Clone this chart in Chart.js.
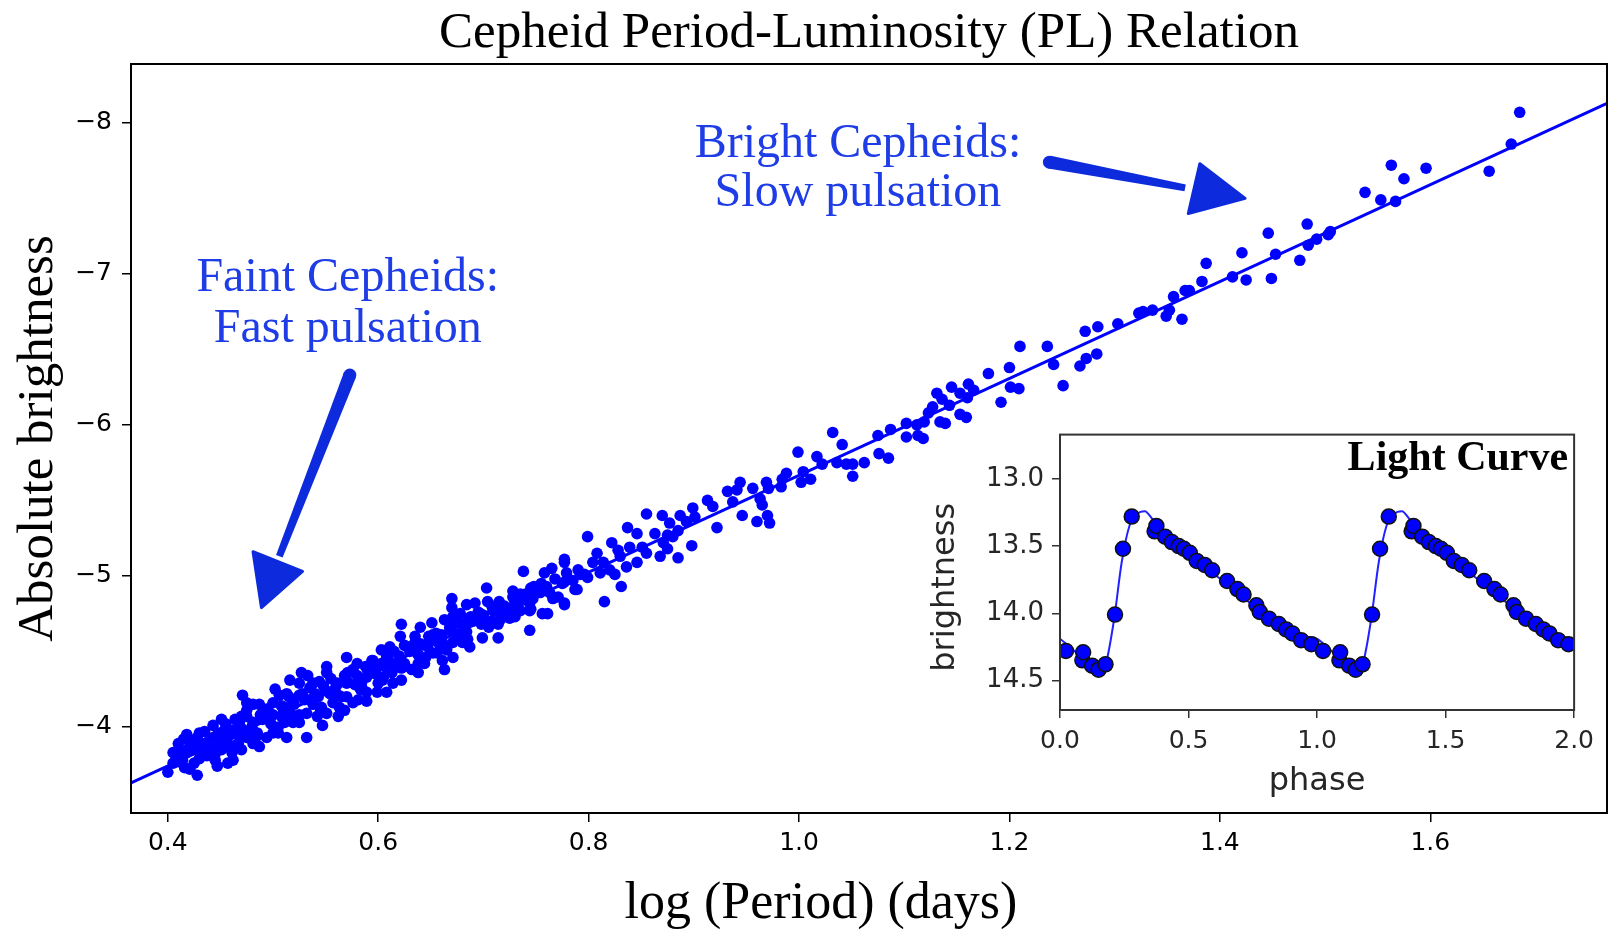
<!DOCTYPE html>
<html>
<head>
<meta charset="utf-8">
<script src="https://cdn.jsdelivr.net/npm/chart.js@4.4.1/dist/chart.umd.min.js"></script>
<style>
  body { margin: 0; background: #fff; }
  #wrap { position: relative; width: 1613px; height: 931px; }
  #mainChart { position: absolute; left: 0; top: 0; }
  #insetChart { position: absolute; left: 895px; top: 411px; }
</style>
</head>
<body>
<div id="wrap">
  <canvas id="mainChart" width="1613" height="931"></canvas>
  <canvas id="insetChart" width="707" height="395"></canvas>
</div>
<script>
// Cepheids: [log P (days), absolute magnitude]
const cepheids = [
  [1.685,-8.07],[1.677,-7.86],[1.656,-7.68],[1.596,-7.70],[1.563,-7.72],[1.575,-7.63],[1.567,-7.48],[1.553,-7.49],
  [1.538,-7.54],[1.505,-7.28],[1.503,-7.26],[1.492,-7.23],[1.483,-7.33],[1.484,-7.19],[1.476,-7.09],[1.453,-7.13],
  [1.446,-7.27],[1.449,-6.97],[1.421,-7.14],[1.425,-6.96],[1.412,-6.98],[1.387,-7.07],[1.383,-6.95],[1.371,-6.89],
  [1.367,-6.89],[1.356,-6.85],[1.352,-6.76],[1.349,-6.72],[1.364,-6.70],[1.336,-6.76],
  [1.327,-6.75],[1.323,-6.74],[1.303,-6.67],[1.284,-6.65],[1.272,-6.62],[1.283,-6.47],[1.273,-6.44],[1.267,-6.39],
  [1.236,-6.52],[1.242,-6.40],[1.251,-6.26],[1.210,-6.52],[1.200,-6.38],[1.180,-6.34],[1.209,-6.24],[1.201,-6.25],
  [1.192,-6.15],[1.161,-6.27],[1.166,-6.23],[1.160,-6.18],[1.145,-6.25],[1.153,-6.21],[1.131,-6.21],[1.136,-6.17],
  [1.143,-6.13],[1.127,-6.12],[1.123,-6.08],[1.153,-6.07],[1.159,-6.05],[1.134,-6.02],[1.139,-6.01],[1.119,-6.02],
  [1.112,-6.00],[1.102,-6.01],[1.087,-5.97],[1.075,-5.93],[1.102,-5.92],[1.118,-5.91],[1.113,-5.93],[1.076,-5.81],
  [1.085,-5.78],[1.062,-5.75],[1.051,-5.74],[1.051,-5.66],
  [1.032,-5.95],[1.041,-5.87],[1.036,-5.75],[1.045,-5.74],[1.017,-5.79],[1.022,-5.74],[0.999,-5.82],[1.004,-5.69],
  [1.002,-5.62],[1.011,-5.64],[0.988,-5.68],[0.984,-5.64],[0.983,-5.59],[0.969,-5.62],[0.971,-5.58],[0.956,-5.58],
  [0.963,-5.51],[0.965,-5.47],[0.970,-5.40],[0.972,-5.35],[0.960,-5.36],[0.944,-5.62],[0.941,-5.57],[0.932,-5.56],
  [0.937,-5.49],[0.946,-5.40],[0.922,-5.32],[0.913,-5.50],[0.918,-5.46],[0.899,-5.45],[0.901,-5.39],[0.898,-5.20],
  [0.893,-5.36],[0.887,-5.40],[0.877,-5.35],[0.885,-5.30],[0.880,-5.26],[0.875,-5.27],[0.885,-5.12],[0.870,-5.40],
  [0.855,-5.41],[0.863,-5.28],[0.871,-5.22],[0.868,-5.13],[0.875,-5.18],[0.855,-5.15],[0.851,-5.19],[0.837,-5.32],
  [0.846,-5.28],[0.839,-5.19],[0.846,-5.09],[0.836,-5.06],[0.830,-5.13],[0.822,-5.22],[0.828,-5.17],[0.820,-5.04],
  [0.825,-5.01],[0.814,-5.09],[0.808,-5.15],[0.804,-5.09],[0.811,-5.02],[0.799,-5.26],[0.799,-4.99],[0.792,-5.01],
  [0.787,-4.91],[0.777,-5.11],[0.779,-5.02],[0.775,-4.95],[0.777,-4.82],[0.815,-4.83],[0.831,-4.93],
  [0.777,-5.09],[0.765,-5.05],[0.758,-5.02],[0.738,-5.03],[0.777,-4.96],[0.789,-4.91],[0.796,-5.01],[0.777,-4.81],
  [0.766,-4.85],[0.761,-4.75],[0.745,-4.92],[0.732,-4.87],[0.747,-4.85],[0.744,-4.77],[0.727,-4.79],[0.730,-4.73],
  [0.744,-4.64],[0.716,-4.71],[0.703,-4.92],[0.704,-4.83],[0.692,-4.82],[0.684,-4.81],[0.670,-4.85],[0.697,-4.75],
  [0.708,-4.70],[0.714,-4.59],[0.699,-4.59],[0.684,-4.69],[0.678,-4.75],[0.671,-4.73],[0.663,-4.71],[0.668,-4.64],
  [0.675,-4.60],[0.680,-4.56],[0.661,-4.56],[0.651,-4.69],[0.640,-4.66],[0.622,-4.68],[0.621,-4.60],[0.635,-4.60],
  [0.649,-4.58],[0.656,-4.49],[0.661,-4.44],[0.663,-4.38],[0.652,-4.49],[0.638,-4.42],[0.625,-4.42],[0.638,-4.48],
  [0.630,-4.51],[0.625,-4.54],[0.611,-4.53],[0.608,-4.48],[0.603,-4.42],[0.613,-4.36],[0.614,-4.29],[0.604,-4.31],
  [0.597,-4.38],[0.594,-4.44],[0.589,-4.33],[0.584,-4.29],[0.589,-4.23],[0.589,-4.17],[0.581,-4.18],[0.570,-4.46],
  [0.580,-4.42],[0.576,-4.38],[0.570,-4.29],[0.571,-4.36],[0.561,-4.29],[0.562,-4.21],[0.568,-4.11],[0.562,-4.07],
  [0.551,-4.40],[0.551,-4.36],[0.557,-4.16],[0.554,-4.22],[0.544,-4.30],[0.538,-4.29],[0.543,-4.20],[0.546,-4.13],
  [0.547,-4.01],[0.532,-3.93],[0.525,-4.03],[0.532,-4.09],[0.527,-4.36],[0.533,-4.34],[0.516,-4.31],[0.525,-4.29],
  [0.525,-4.21],[0.519,-4.16],[0.513,-4.22],[0.511,-4.13],[0.506,-4.21],[0.502,-4.25],[0.500,-4.16],[0.505,-3.96],
  [0.500,-3.96],[0.494,-4.11],[0.490,-4.07],[0.487,-4.15],[0.481,-4.15],[0.475,-4.11],[0.471,-4.21],[0.470,-4.07],
  [0.475,-4.16],[0.481,-4.03],[0.468,-4.03],[0.464,-4.05],[0.462,-3.98],[0.475,-3.93],[0.481,-3.89],[0.467,-3.89],
  [0.456,-3.91],[0.461,-3.83],[0.454,-3.98],[0.451,-4.05],[0.443,-4.01],[0.443,-3.93],[0.445,-3.78],[0.448,-3.87],
  [0.435,-3.89],[0.430,-3.96],[0.430,-3.79],[0.428,-3.93],[0.421,-3.91],[0.418,-3.83],[0.414,-3.78],[0.410,-3.89],
  [0.405,-3.83],[0.416,-3.73],[0.421,-3.72],[0.428,-3.68],[0.400,-3.70],[0.410,-3.77],[0.411,-3.85],[0.462,-3.78],
  [0.457,-3.76],[0.424,-3.85],[0.437,-3.81],[0.451,-3.85],[0.497,-4.05],[0.511,-4.03],[0.519,-4.03],[0.513,-4.09],
  [0.542,-4.07],[0.535,-4.18],[0.563,-4.13],[0.583,-4.25],[0.599,-4.23],[0.600,-4.29],[0.608,-4.23],[0.611,-4.42],
  [0.622,-4.39],[0.632,-4.38],[0.638,-4.36],[0.622,-4.31],[0.606,-4.40],[0.637,-4.53],[0.647,-4.53],[0.652,-4.61],
  [0.671,-4.56],[0.684,-4.63],[0.687,-4.72],[0.699,-4.71],[0.687,-4.53],[0.665,-4.51],[0.671,-4.46],[0.644,-4.42],
  [0.709,-4.77],[0.716,-4.79],[0.722,-4.75],[0.735,-4.77],[0.744,-4.82],[0.756,-4.75],[0.728,-4.86],[0.737,-4.84],
  [0.754,-4.89],[0.763,-4.89],[0.771,-4.86],[0.790,-5.04],[0.714,-4.68],[0.670,-4.79],[0.668,-4.69],[0.603,-4.51],
  [0.570,-4.20],[0.576,-4.16],[0.551,-4.09],[0.513,-3.93],[0.508,-4.07],[0.485,-3.96],[0.487,-3.87],[0.494,-3.93],
  [0.470,-3.85],[0.447,-3.74],[0.440,-3.85],
  [0.41,-3.80],[0.42,-3.86],[0.43,-3.84],[0.44,-3.92],[0.45,-3.93],[0.46,-3.95],[0.47,-3.99],[0.48,-4.00],
  [0.49,-4.05],[0.50,-4.08],[0.51,-4.10],[0.52,-4.15],[0.53,-4.18],[0.54,-4.22],[0.55,-4.24],[0.56,-4.27],
  [0.57,-4.31],[0.58,-4.34],[0.59,-4.37],[0.60,-4.40],[0.61,-4.44],[0.62,-4.47],[0.63,-4.50],[0.64,-4.55],
  [0.65,-4.57],[0.66,-4.61],[0.67,-4.64],[0.68,-4.68],[0.69,-4.70],[0.70,-4.74],[0.71,-4.77],[0.72,-4.80],
  [0.73,-4.83],[0.74,-4.88],[0.75,-4.90],[0.76,-4.93],
  [0.415,-3.92],[0.435,-3.97],[0.455,-4.02],[0.475,-4.07],[0.495,-4.12],[0.515,-4.20],[0.535,-4.26],[0.555,-4.32],
  [0.575,-4.37],[0.595,-4.44],[0.615,-4.50],[0.635,-4.56],[0.655,-4.62],[0.675,-4.69],[0.695,-4.76],[0.715,-4.83],
  [0.735,-4.88],[0.755,-4.95],
  [0.425,-3.76],[0.445,-3.82],[0.465,-3.88],[0.485,-3.94],[0.505,-4.00],[0.525,-4.08],[0.545,-4.12],[0.565,-4.20],
  [0.585,-4.25],[0.605,-4.33],[0.625,-4.40],[0.645,-4.46],[0.665,-4.52],[0.685,-4.58],[0.705,-4.66],[0.725,-4.72],
  [0.745,-4.78],
  [0.405,-3.76],[0.418,-3.95],[0.428,-3.88],[0.438,-3.88],[0.448,-3.96],[0.458,-3.88],[0.468,-3.94],[0.478,-3.98],
  [0.488,-4.08],[0.498,-4.02],[0.508,-4.14],[0.518,-4.08],[0.528,-4.22],[0.538,-4.15],[0.548,-4.27],[0.558,-4.24],
  [0.568,-4.34],[0.578,-4.28],[0.588,-4.40],[0.598,-4.35],[0.608,-4.46],[0.618,-4.42],[0.628,-4.53],[0.638,-4.48],
  [0.648,-4.60],[0.658,-4.55],[0.668,-4.66],[0.678,-4.62],[0.688,-4.73],[0.698,-4.68],[0.708,-4.80],[0.718,-4.76],
  [0.728,-4.90],[0.748,-4.93],[0.768,-4.98],[0.785,-4.97]
];

// fitted PL line, end points at the axis edges
const fitLogP = [0.365, 1.768];
const fitMag = [-3.63, -8.13];

const xTicks = [0.4, 0.6, 0.8, 1.0, 1.2, 1.4, 1.6];
const yTicks = [-8, -7, -6, -5, -4];

// light curve (one cycle, plotted twice)
const lcPhase = [0.023,0.087,0.090,0.125,0.150,0.177,0.214,0.245,0.279,0.368,0.375,0.409,0.435,0.462,0.482,
                 0.505,0.532,0.563,0.592,0.650,0.690,0.714,0.764,0.777,0.813,0.851,0.880,0.904,0.938,0.978];
const lcMag = [14.28,14.35,14.29,14.39,14.42,14.38,14.01,13.52,13.28,13.39,13.35,13.43,13.47,13.50,13.52,
               13.55,13.61,13.64,13.68,13.76,13.82,13.86,13.94,13.99,14.04,14.08,14.12,14.15,14.20,14.23];
const modelPhase = [0.00,0.05,0.10,0.15,0.18,0.21,0.24,0.27,0.30,0.33,0.36,0.40,0.50,0.60,0.70,0.80,0.90,0.95,1.00];
const modelMag = [14.19,14.27,14.36,14.43,14.36,14.05,13.62,13.35,13.26,13.24,13.30,13.40,13.56,13.71,13.86,14.02,14.13,14.17,14.19];
const phaseTicks = [0.0, 0.5, 1.0, 1.5, 2.0];
const brightTicks = [13.0, 13.5, 14.0, 14.5];

const chartTitle = "Cepheid Period-Luminosity (PL) Relation";
const xTitle = "log (Period) (days)";
const yTitle = "Absolute brightness";
const notes = [
  { lines: ["Faint Cepheids:", "Fast pulsation"], x: 0.571, y: [-6.97, -6.63] },
  { lines: ["Bright Cepheids:", "Slow pulsation"], x: 1.056, y: [-7.86, -7.53] }
];
const arrows = [
  { shaft: [[0.573, -6.33], [0.506, -5.13]], head: [[0.481, -5.16], [0.528, -5.03], [0.489, -4.79]] },
  { shaft: [[1.238, -7.74], [1.367, -7.57]], head: [[1.381, -7.73], [1.424, -7.50], [1.370, -7.40]] }
];

const blue = "#0000ff";
const noteBlue = "#1e3de6";
const arrowBlue = "#0d2bdc";

const mainDecor = {
  id: "mainDecor",
  afterDraw(chart) {
    const { ctx, chartArea: a, scales: { x, y } } = chart;
    const px = p => [x.getPixelForValue(p[0]), y.getPixelForValue(p[1])];
    ctx.save();
    ctx.strokeStyle = "#000";
    ctx.lineWidth = 2;
    ctx.strokeRect(a.left, a.top, a.right - a.left, a.bottom - a.top);

    ctx.fillStyle = "#000";
    ctx.textAlign = "center";
    ctx.textBaseline = "middle";
    ctx.font = '51px "Liberation Serif"';
    ctx.fillText(chartTitle, (a.left + a.right) / 2, 34);
    ctx.font = '52px "Liberation Serif"';
    ctx.fillText(xTitle, (a.left + a.right) / 2 - 48, 904);

    ctx.fillStyle = noteBlue;
    ctx.font = '48px "Liberation Serif"';
    notes.forEach(n => {
      n.lines.forEach((t, i) => ctx.fillText(t, x.getPixelForValue(n.x), y.getPixelForValue(n.y[i])));
    });

    ctx.fillStyle = arrowBlue;
    arrows.forEach(ar => {
      const [x0, y0] = px(ar.shaft[0]);
      const [x1, y1] = px(ar.shaft[1]);
      const len = Math.hypot(x1 - x0, y1 - y0);
      const nx = -(y1 - y0) / len, ny = (x1 - x0) / len;
      const w0 = 6.5, w1 = 3.5;
      ctx.beginPath();
      ctx.moveTo(x0 + nx * w0, y0 + ny * w0);
      ctx.lineTo(x1 + nx * w1, y1 + ny * w1);
      ctx.lineTo(x1 - nx * w1, y1 - ny * w1);
      ctx.lineTo(x0 - nx * w0, y0 - ny * w0);
      ctx.closePath();
      ctx.fill();
      ctx.beginPath();
      ctx.arc(x0, y0, w0, 0, Math.PI * 2);
      ctx.fill();
      ctx.beginPath();
      ar.head.forEach((p, i) => {
        const [hx, hy] = px(p);
        if (i === 0) ctx.moveTo(hx, hy); else ctx.lineTo(hx, hy);
      });
      ctx.closePath();
      ctx.fill();
      ctx.lineJoin = "round";
      ctx.lineWidth = 3;
      ctx.strokeStyle = arrowBlue;
      ctx.stroke();
    });
    ctx.restore();
  }
};

new Chart(document.getElementById("mainChart"), {
  type: "scatter",
  data: {
    datasets: [
      {
        data: cepheids.map(([lp, m]) => ({ x: lp, y: m })),
        backgroundColor: blue,
        pointRadius: 5.8,
        pointBorderWidth: 0,
        pointHoverRadius: 5.8
      },
      {
        data: fitLogP.map((lp, i) => ({ x: lp, y: fitMag[i] })),
        showLine: true,
        borderColor: blue,
        borderWidth: 3,
        pointRadius: 0
      }
    ]
  },
  options: {
    responsive: false,
    animation: false,
    layout: { padding: { top: 64, right: 6, left: 0, bottom: 0 } },
    plugins: { legend: { display: false }, tooltip: { enabled: false } },
    scales: {
      x: {
        type: "linear",
        min: 0.365,
        max: 1.768,
        afterBuildTicks: s => { s.ticks = xTicks.map(v => ({ value: v })); },
        afterFit: s => { s.height = 118; },
        grid: { drawOnChartArea: false, drawTicks: true, tickLength: 9, color: "#000", lineWidth: 1.5 },
        border: { display: false },
        ticks: {
          font: { family: "DejaVu Sans", size: 25 },
          color: "#000",
          padding: 6,
          maxRotation: 0,
          autoSkip: false,
          callback: v => v.toFixed(1)
        }
      },
      y: {
        type: "linear",
        reverse: true,
        min: -8.39,
        max: -3.43,
        afterBuildTicks: s => { s.ticks = yTicks.map(v => ({ value: v })); },
        afterFit: s => { s.width = 131; },
        grid: { drawOnChartArea: false, drawTicks: true, tickLength: 9, color: "#000", lineWidth: 1.5 },
        border: { display: false },
        ticks: {
          font: { family: "DejaVu Sans", size: 25 },
          color: "#000",
          padding: 10,
          autoSkip: false,
          callback: v => (v < 0 ? "\u2212" : "") + Math.abs(v)
        },
        title: {
          display: true,
          text: yTitle,
          color: "#000",
          font: { family: "Liberation Serif", size: 51 },
          padding: { top: 8, bottom: 0 }
        }
      }
    }
  },
  plugins: [mainDecor]
});

const insetDecor = {
  id: "insetDecor",
  beforeDraw(chart) {
    const { ctx, chartArea: a } = chart;
    ctx.save();
    ctx.fillStyle = "#fff";
    ctx.fillRect(a.left, a.top, a.right - a.left, a.bottom - a.top);
    ctx.restore();
  },
  afterDraw(chart) {
    const { ctx, chartArea: a } = chart;
    ctx.save();
    ctx.strokeStyle = "#333";
    ctx.lineWidth = 2;
    ctx.strokeRect(a.left, a.top, a.right - a.left, a.bottom - a.top);
    ctx.fillStyle = "#000";
    ctx.font = 'bold 42px "Liberation Serif"';
    ctx.textAlign = "right";
    ctx.textBaseline = "middle";
    ctx.fillText("Light Curve", a.right - 6, a.top + 25);

    // y-axis title sits a little below the axis centre in the original
    ctx.fillStyle = "#262626";
    ctx.font = '32px "DejaVu Sans"';
    ctx.textAlign = "center";
    ctx.translate(51, (a.top + a.bottom) / 2 + 15);
    ctx.rotate(-Math.PI / 2);
    ctx.fillText("brightness", 0, 0);
    ctx.restore();
  }
};

const lcPoints = lcPhase.map((p, i) => ({ x: p, y: lcMag[i] }))
  .concat(lcPhase.map((p, i) => ({ x: p + 1, y: lcMag[i] })));
const lcModel = modelPhase.slice(0, -1).map((p, i) => ({ x: p, y: modelMag[i] }))
  .concat(modelPhase.map((p, i) => ({ x: p + 1, y: modelMag[i] })));

new Chart(document.getElementById("insetChart"), {
  type: "scatter",
  data: {
    datasets: [
      {
        data: lcPoints,
        backgroundColor: blue,
        borderColor: "#111",
        pointRadius: 7.5,
        pointBorderWidth: 1.5,
        pointHoverRadius: 7.5
      },
      {
        data: lcModel,
        showLine: true,
        borderColor: "#2222ff",
        borderWidth: 2,
        pointRadius: 0,
        cubicInterpolationMode: "monotone"
      }
    ]
  },
  options: {
    responsive: false,
    animation: false,
    layout: { padding: { top: 10, right: 21, left: 0, bottom: 0 } },
    plugins: { legend: { display: false }, tooltip: { enabled: false } },
    scales: {
      x: {
        type: "linear",
        min: 0,
        max: 2,
        afterBuildTicks: s => { s.ticks = phaseTicks.map(v => ({ value: v })); },
        afterFit: s => { s.height = 96; },
        grid: { drawOnChartArea: false, drawTicks: true, tickLength: 8, color: "#333", lineWidth: 1.5 },
        border: { display: false },
        ticks: {
          font: { family: "DejaVu Sans", size: 25 },
          color: "#262626",
          padding: 8,
          maxRotation: 0,
          autoSkip: false,
          callback: v => v.toFixed(1)
        },
        title: {
          display: true,
          text: "phase",
          color: "#262626",
          font: { family: "DejaVu Sans", size: 32 },
          padding: { top: 0, bottom: 5 }
        }
      },
      y: {
        type: "linear",
        reverse: true,
        min: 12.67,
        max: 14.72,
        afterBuildTicks: s => { s.ticks = brightTicks.map(v => ({ value: v })); },
        afterFit: s => { s.width = 165; },
        grid: { drawOnChartArea: false, drawTicks: true, tickLength: 8, color: "#333", lineWidth: 1.5 },
        border: { display: false },
        ticks: {
          font: { family: "DejaVu Sans", size: 26 },
          color: "#262626",
          padding: 8,
          autoSkip: false,
          callback: v => v.toFixed(1)
        }
      }
    }
  },
  plugins: [insetDecor]
});
</script>
</body>
</html>
